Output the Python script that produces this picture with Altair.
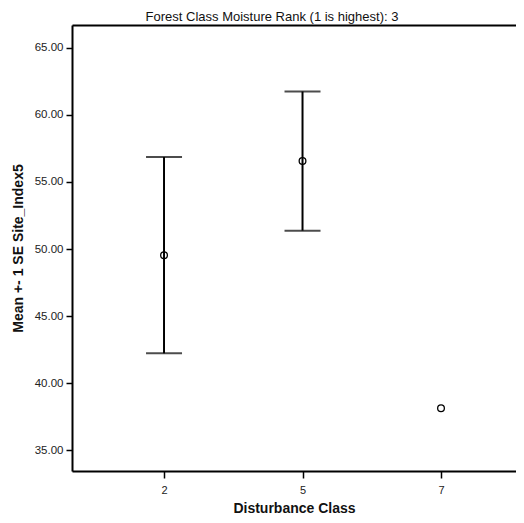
import altair as alt
import pandas as pd

categories = ["2", "5", "7"]
means = [49.53, 56.56, 38.12]
upper = [56.86, 61.75, None]
lower = [42.22, 51.37, None]
y_ticks = [35, 40, 45, 50, 55, 60, 65]

df = pd.DataFrame({"cls": categories, "mean": means, "hi": upper, "lo": lower})

FONT = "Liberation Sans"

xscale = alt.Scale(type="point", domain=categories, padding=0.603, align=0.551)
yscale = alt.Scale(domain=[33.44, 66.71], nice=False, zero=False)

xaxis = alt.Axis(
    title="Disturbance Class", labelFont=FONT, labelFontSize=11, labelColor="#222",
    titleFont=FONT, titleFontSize=14, titleFontWeight="bold", titleColor="#111",
    domainColor="black", domainWidth=2, tickColor="black", tickWidth=1.5, tickSize=7,
    labelPadding=6, titlePadding=6, labelAngle=0, grid=False,
)
yaxis = alt.Axis(
    title="Mean +- 1 SE Site_Index5", values=y_ticks, format=".2f",
    labelFont=FONT, labelFontSize=11.5, labelColor="#222",
    titleFont=FONT, titleFontSize=14, titleFontWeight="bold", titleColor="#111",
    domainColor="black", domainWidth=2, tickColor="black", tickWidth=1.5, tickSize=6,
    labelPadding=3, titlePadding=9, grid=False,
)
topaxis = alt.Axis(
    orient="top", labels=False, ticks=False, title="", grid=False,
    domain=True, domainColor="black", domainWidth=2,
)

base = alt.Chart(df)

rule = base.mark_rule(color="black", strokeWidth=2).encode(
    x=alt.X("cls:O", scale=xscale, axis=xaxis),
    y=alt.Y("lo:Q", scale=yscale, axis=yaxis), y2="hi:Q"
).transform_filter("isValid(datum.hi)")

cap_hi = base.mark_tick(orient="horizontal", size=36, thickness=2, color="black").encode(
    x=alt.X("cls:O", scale=xscale, axis=None),
    y=alt.Y("hi:Q", scale=yscale, axis=yaxis)
).transform_filter("isValid(datum.hi)")

cap_lo = base.mark_tick(orient="horizontal", size=36, thickness=2, color="black").encode(
    x=alt.X("cls:O", scale=xscale, axis=None),
    y=alt.Y("lo:Q", scale=yscale, axis=yaxis)
).transform_filter("isValid(datum.lo)")

points = base.mark_point(shape="circle", size=45, filled=False, color="black",
                         strokeWidth=1.3, opacity=1).encode(
    x=alt.X("cls:O", scale=xscale, axis=topaxis),
    y=alt.Y("mean:Q", scale=yscale, axis=yaxis),
)

chart = alt.layer(rule, cap_hi, cap_lo, points).resolve_axis(x="independent").properties(
    width=444, height=446,
    title=alt.TitleParams(
        "Forest Class Moisture Rank (1 is highest): 3", font=FONT, fontSize=13,
        fontWeight="normal", color="#111", anchor="middle", dx=-22, dy=16,
        baseline="bottom", offset=4,
    ),
    autosize=alt.AutoSizeParams(type="none"),
    padding={"left": 64, "top": 17, "right": 0, "bottom": 44},
).configure_view(stroke=None).configure(background="white")

chart.save("out.html", embed_options={"renderer": "svg", "actions": False})
